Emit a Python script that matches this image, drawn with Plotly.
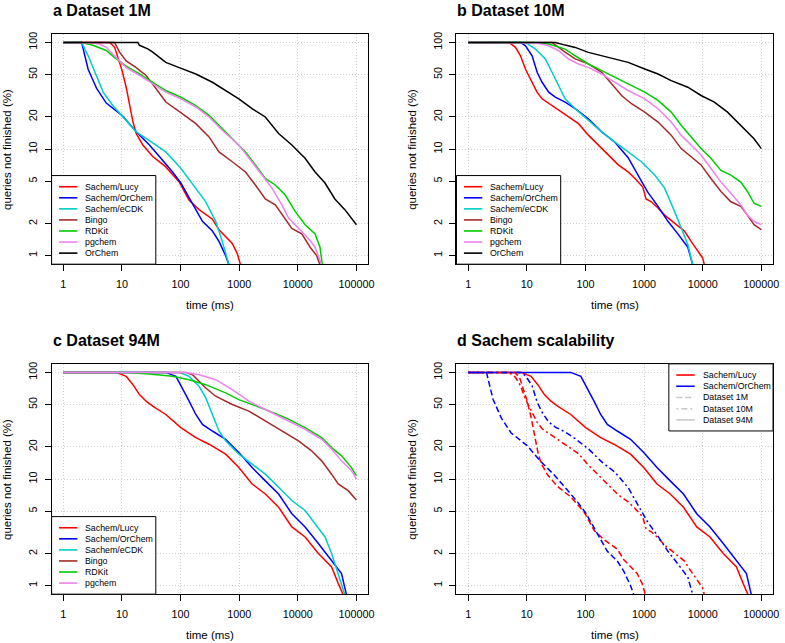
import plotly.graph_objects as go

W, H = 785, 643

# ---- a Dataset 1M : time (ms) / queries not finished (%)
a_lucy_t = [1, 6.2, 7.5, 9.1, 10, 11.8, 13.5, 15.4, 17.5, 22.7, 33.5, 56, 95, 140, 207, 349, 452, 761, 925, 1054]
a_lucy_p = [100, 100, 90, 66, 55, 38, 26, 18, 14, 10.9, 8.5, 6.8, 4.9, 3.3, 2.7, 2.2, 1.75, 1.3, 1.05, 0.82]
a_orchem_t = [1, 2.05, 2.65, 3.7, 5.4, 10, 17.5, 29.4, 43.5, 73, 101, 160, 236, 349, 452, 587, 668]
a_orchem_p = [100, 100, 56, 37, 27, 20.7, 14.5, 10.9, 8.5, 6.1, 4.8, 3.1, 2.1, 1.7, 1.36, 1.0, 0.82]
a_ecdk_t = [1, 2.05, 2.65, 3.7, 4.8, 7.0, 10, 17.5, 29.4, 56, 101, 182, 269, 397, 515, 668]
a_ecdk_p = [100, 100, 75, 49, 34, 25.6, 20.7, 14.5, 12, 9.4, 6.6, 4.3, 3.2, 2.1, 1.36, 0.82]
a_bingo_t = [1, 7.5, 9.1, 11.8, 17.5, 25.8, 38, 56, 101, 182, 306, 452, 761, 1280, 1890, 2790, 4130,
             6100, 7910, 11700, 16200, 21000, 23900]
a_bingo_p = [100, 100, 81, 67, 58, 49, 37, 27.6, 22, 17.3, 13, 9.4, 7.6, 6.1, 4.6, 3.4, 3.0,
             2.2, 1.8, 1.6, 1.2, 1.0, 0.82]
a_rdkit_t = [1, 2.05, 3.2, 5.4, 7.5, 11.8, 19.9, 33.5, 56, 101, 182, 306, 515, 761, 1280, 1890,
             2790, 4130, 6100, 9010, 13300, 19700, 23900, 26200]
a_rdkit_p = [100, 100, 94, 84, 72, 60, 50.6, 42, 35.4, 30.6, 25.6, 20.7, 15.6, 12.5, 9.4, 7.1,
             5.3, 4.6, 3.7, 2.6, 1.95, 1.6, 1.2, 0.82]
a_pgchem_t = [1, 3.2, 4.2, 5.4, 8.0, 11.8, 19.9, 33.5, 56, 101, 182, 306, 515, 986, 1660, 2450,
              3620, 5350, 6950, 10260, 15150, 19700, 25500]
a_pgchem_p = [100, 99, 96, 90, 72, 58, 49, 41, 34.2, 29.6, 24.8, 20, 15, 10.9, 7.6, 5.7,
              4.3, 3.0, 2.25, 1.8, 1.45, 1.2, 0.82]
a_orchemdb_t = [1, 18.7, 19.9, 27.6, 33.5, 43.5, 56, 95, 182, 349, 587, 986, 1660, 2790, 4700,
                7910, 13300, 19700, 29100, 42900, 63400, 82200, 100000]
a_orchemdb_p = [100, 100, 94, 87, 81, 72, 65, 58, 50.6, 42.3, 35.4, 29.6, 23.9, 20, 14,
                10.9, 8.2, 6.1, 4.8, 3.4, 2.7, 2.25, 1.95]

# ---- b Dataset 10M
b_lucy_t = [1, 4.95, 6.4, 7.8, 9.5, 12.3, 15, 18.2, 26.9, 45, 76, 112, 166, 245, 363, 535, 700,
            950, 1080, 1330, 1730, 2240, 3310, 4890, 6340, 8230, 10000, 10670]
b_lucy_p = [100, 100, 90, 75, 56, 42, 34, 29.6, 25.6, 21.4, 17.3, 13.5, 10.9, 8.8, 7.1, 6.1, 5.3,
            4.4, 3.4, 3.2, 2.8, 2.4, 2.0, 1.7, 1.36, 1.1, 0.95, 0.82]
b_orchem_t = [1, 7.8, 9.5, 12.3, 15, 18.2, 23.6, 30.6, 45, 66.8, 112, 189, 318, 535, 901, 1170,
              1730, 2550, 3770, 5570, 6760]
b_orchem_p = [100, 100, 93, 75, 52.5, 42.3, 34.2, 30.7, 27.6, 23.9, 19.2, 14.5, 11.6, 8.3, 5.0, 3.9,
              2.9, 2.1, 1.6, 1.2, 0.82]
b_ecdk_t = [1, 9.5, 14, 20.7, 26.9, 34.9, 45, 66.8, 112, 189, 318, 535, 901, 1520, 2240, 3310,
            4290, 5570, 6760]
b_ecdk_p = [100, 100, 86.6, 69.9, 52.5, 39.4, 29.6, 23.9, 18.6, 14.5, 11.6, 9.4, 7.6, 5.7, 4.3, 2.6,
            1.8, 1.27, 0.82]
b_bingo_t = [1, 26.9, 45, 66.8, 112, 189, 279, 413, 610, 1026, 1730, 2900, 4290, 6340, 9370,
             13800, 20500, 30200, 44600, 57900, 75100, 100000]
b_bingo_p = [100, 100, 81, 70, 63, 52.5, 41, 31.8, 26.6, 22.2, 17.9, 13.5, 10.1, 8.5, 7.1,
             5.3, 4.0, 3.2, 2.9, 2.4, 1.95, 1.75]
b_rdkit_t = [1, 14, 23.6, 45, 66.8, 112, 189, 318, 535, 1026, 1730, 2900, 4290, 6340, 9370,
             13800, 20500, 30200, 44600, 57900, 75100, 100000]
b_rdkit_p = [100, 100, 96.5, 86.6, 75, 62.8, 54.4, 47.2, 40.9, 34.2, 28.6, 22.2, 16.7, 13, 10.1,
             8.2, 6.3, 5.7, 4.9, 4.0, 3.1, 2.9]
b_pgchem_t = [1, 14, 23.6, 34.9, 51.5, 76, 112, 189, 318, 535, 1026, 1730, 2900, 4290, 6340,
              9370, 13800, 20500, 30200, 44600, 57900, 75100, 100000]
b_pgchem_p = [100, 99, 93, 83.6, 69.9, 62.8, 58.4, 50.6, 42.3, 35.4, 29.6, 23.9, 17.9, 13.5, 10.9,
              8.8, 6.6, 4.9, 3.85, 3.0, 2.4, 2.1, 1.95]
b_orchemdb_t = [1, 30.6, 45, 66.8, 112, 189, 318, 535, 1026, 1730, 2900, 5570, 9370, 15800,
                26500, 39200, 57900, 75100, 100000]
b_orchemdb_p = [100, 100, 94.4, 89.8, 80.7, 75, 69.9, 65, 56.4, 50.6, 43.8, 38, 31.8, 27.6,
                22.2, 17.9, 14.5, 12.5, 10.1]

# ---- c Dataset 94M
c_lucy_t = [1, 8.0, 11.8, 15.4, 19.9, 25.8, 33.5, 56, 101, 182, 306, 587, 986, 1660, 2790, 4700,
            7910, 13300, 22400, 37700, 48900, 59400]
c_lucy_p = [100, 100, 91.8, 76.7, 61.9, 53.7, 48.2, 40.3, 30.3, 24.4, 21.2, 17.1, 12.8, 8.98, 7.24,
            5.44, 3.55, 2.86, 2.0, 1.5, 1.05, 0.82]
c_orchem_t = [1, 56, 83.4, 108, 140, 182, 236, 349, 587, 986, 1660, 2790, 4700, 7910, 13300,
              22400, 37700, 55700, 67600]
c_orchem_p = [100, 100, 91.8, 71.4, 53.7, 40.3, 32.5, 28.2, 23.6, 17.7, 12.8, 9.6, 7.24, 4.72, 3.55,
              2.48, 1.73, 1.3, 0.82]
c_ecdk_t = [1, 95, 140, 207, 269, 349, 452, 587, 986, 1660, 2790, 4700, 7910, 13300, 19700, 29100,
            37700, 48900, 63400]
c_ecdk_p = [100, 100, 91.8, 74.1, 57.7, 40.3, 28.2, 22.8, 17.1, 13.8, 11.1, 8.36, 6.28, 5.07, 3.81,
            2.86, 2.0, 1.3, 0.82]
c_bingo_t = [1, 122, 160, 207, 269, 397, 761, 1460, 2790, 5350, 10260, 17200, 25500, 37700, 48900,
             72200, 100000]
c_bingo_p = [100, 100, 95, 82.4, 71.4, 59.8, 50, 43.4, 34.9, 28.2, 22.8, 18.4, 14.8, 11.1, 8.98,
             7.78, 6.36]
c_rdkit_t = [1, 11.8, 29.4, 73, 140, 269, 587, 986, 2790, 6100, 13300, 25500, 37700, 55700, 82200,
             100000]
c_rdkit_p = [100, 100, 96.5, 91.8, 85.4, 76.7, 64.2, 55.6, 44.9, 37.6, 30.3, 24.4, 19.7, 16.5, 12.8,
             10.7]
c_pgchem_t = [1, 122, 207, 397, 761, 1460, 2790, 6100, 13300, 25500, 37700, 55700, 82200, 100000]
c_pgchem_p = [100, 100, 95, 85.4, 69, 53.7, 44.9, 36.2, 29.3, 23.6, 19.1, 14.8, 12, 10]

x_ticks = [1, 10, 100, 1000, 10000, 100000]
x_labels = ["1", "10", "100", "1000", "10000", "100000"]
y_ticks = [1, 2, 5, 10, 20, 50, 100]
y_labels = ["1", "2", "5", "10", "20", "50", "100"]

titles = ["a Dataset 1M", "b Dataset 10M", "c Dataset 94M", "d Sachem scalability"]

colors = {
    "Sachem/Lucy": "#FF0000",
    "Sachem/OrChem": "#0000FF",
    "Sachem/eCDK": "#00CDCD",
    "Bingo": "#A52A2A",
    "RDKit": "#00CD00",
    "pgchem": "#EE82EE",
    "OrChem": "#000000",
}
DASH_1M = "6px,3px"
DASH_10M = "2px,3px,6px,3px"
FONT = "Liberation Sans, Arial, sans-serif"

panel_a = [("Sachem/Lucy", a_lucy_t, a_lucy_p), ("Sachem/OrChem", a_orchem_t, a_orchem_p),
           ("Sachem/eCDK", a_ecdk_t, a_ecdk_p), ("Bingo", a_bingo_t, a_bingo_p),
           ("RDKit", a_rdkit_t, a_rdkit_p), ("pgchem", a_pgchem_t, a_pgchem_p),
           ("OrChem", a_orchemdb_t, a_orchemdb_p)]
panel_b = [("Sachem/Lucy", b_lucy_t, b_lucy_p), ("Sachem/OrChem", b_orchem_t, b_orchem_p),
           ("Sachem/eCDK", b_ecdk_t, b_ecdk_p), ("Bingo", b_bingo_t, b_bingo_p),
           ("RDKit", b_rdkit_t, b_rdkit_p), ("pgchem", b_pgchem_t, b_pgchem_p),
           ("OrChem", b_orchemdb_t, b_orchemdb_p)]
panel_c = [("Sachem/Lucy", c_lucy_t, c_lucy_p), ("Sachem/OrChem", c_orchem_t, c_orchem_p),
           ("Sachem/eCDK", c_ecdk_t, c_ecdk_p), ("Bingo", c_bingo_t, c_bingo_p),
           ("RDKit", c_rdkit_t, c_rdkit_p), ("pgchem", c_pgchem_t, c_pgchem_p)]

# plot boxes in pixels (left, right, top, bottom)
boxes = [(52, 371, 32, 263), (460, 779, 32, 263), (52, 371, 363, 594), (460, 779, 363, 594)]


def fx(v):
    return v / W


def fy(v):
    return 1 - v / H


fig = go.Figure()

for i, series in enumerate([panel_a, panel_b, panel_c]):
    sfx = "" if i == 0 else str(i + 1)
    for name, t, p in series:
        fig.add_trace(go.Scatter(x=t, y=p, mode="lines", name=name,
                                 line=dict(color=colors[name], width=1.5),
                                 xaxis="x" + sfx, yaxis="y" + sfx, showlegend=False))

# d: Sachem scalability (94M solid, 1M dashed, 10M dot-dash)
for t, p, col, dash in [
    (c_lucy_t, c_lucy_p, colors["Sachem/Lucy"], "solid"),
    (c_orchem_t, c_orchem_p, colors["Sachem/OrChem"], "solid"),
    (a_lucy_t, a_lucy_p, colors["Sachem/Lucy"], DASH_1M),
    (a_orchem_t, a_orchem_p, colors["Sachem/OrChem"], DASH_1M),
    (b_lucy_t, b_lucy_p, colors["Sachem/Lucy"], DASH_10M),
    (b_orchem_t, b_orchem_p, colors["Sachem/OrChem"], DASH_10M),
]:
    fig.add_trace(go.Scatter(x=t, y=p, mode="lines", line=dict(color=col, width=1.5, dash=dash),
                             xaxis="x4", yaxis="y4", showlegend=False))

layout = dict(
    width=W, height=H, margin=dict(l=0, r=0, t=0, b=0),
    paper_bgcolor="white", plot_bgcolor="white",
    font=dict(family=FONT, color="black"),
    showlegend=False,
)
shapes = []
annotations = []

for i, (x0, x1, y0, y1) in enumerate(boxes):
    sfx = "" if i == 0 else str(i + 1)
    axis_common = dict(
        type="log", ticks="outside", ticklen=6, tickwidth=1, tickcolor="black",
        showline=True, mirror=True, linecolor="black", linewidth=1,
        showgrid=True, gridcolor="#CFCFCF", griddash="1px,2px", gridwidth=1,
        zeroline=False, tickfont=dict(size=10.8, family=FONT, color="black"),
    )
    layout["xaxis" + sfx] = dict(axis_common, domain=[fx(x0), fx(x1)], range=[-0.2, 5.2],
                                 anchor="y" + sfx, tickvals=x_ticks, ticktext=x_labels,
                                 ticklabelstandoff=4)
    layout["yaxis" + sfx] = dict(axis_common, domain=[fy(y1), fy(y0)], range=[-0.08, 2.08],
                                 anchor="x" + sfx, tickvals=y_ticks, ticktext=y_labels,
                                 tickangle=-90, ticklabelstandoff=3)
    # panel title
    annotations.append(dict(text="<b>" + titles[i] + "</b>", xref="paper", yref="paper",
                            x=fx(x0 - 1), y=fy(y0 - 23.5), xanchor="left", yanchor="middle",
                            showarrow=False, font=dict(size=16, family=FONT, color="black")))
    # axis titles
    annotations.append(dict(text="time (ms)", xref="paper", yref="paper",
                            x=fx((x0 + x1) / 2), y=fy(y1 + 41), xanchor="center", yanchor="middle",
                            showarrow=False, font=dict(size=11.5, family=FONT, color="black")))
    annotations.append(dict(text="queries not finished (%)", xref="paper", yref="paper",
                            x=fx(x0 - 45), y=fy((y0 + y1) / 2), xanchor="center", yanchor="middle",
                            textangle=-90, showarrow=False,
                            font=dict(size=11.5, family=FONT, color="black")))


def add_legend(left, top, items, width=105, step=11.1):
    height = (len(items) - 1) * step + 22.3
    shapes.append(dict(type="rect", xref="paper", yref="paper", layer="above",
                       x0=fx(left), x1=fx(left + width), y0=fy(top + height), y1=fy(top),
                       line=dict(color="black", width=1), fillcolor="white"))
    for k, (label, col, dash) in enumerate(items):
        yy = top + 11.2 + k * step
        shapes.append(dict(type="line", xref="paper", yref="paper", layer="above",
                           x0=fx(left + 7.5), x1=fx(left + 26), y0=fy(yy), y1=fy(yy),
                           line=dict(color=col, width=1.6, dash=dash)))
        annotations.append(dict(text=label, xref="paper", yref="paper", x=fx(left + 32),
                                y=fy(yy), xanchor="left", yanchor="middle", showarrow=False,
                                font=dict(size=8.8, family=FONT, color="black")))


names_all = list(colors.keys())
add_legend(52, 263 - (6 * 11.1 + 22.3), [(n, colors[n], "solid") for n in names_all])
add_legend(460, 263 - (6 * 11.1 + 22.3), [(n, colors[n], "solid") for n in names_all])
add_legend(52, 594 - (5 * 11.1 + 22.3), [(n, colors[n], "solid") for n in names_all[:6]])
add_legend(674, 363, [("Sachem/Lucy", colors["Sachem/Lucy"], "solid"),
                      ("Sachem/OrChem", colors["Sachem/OrChem"], "solid"),
                      ("Dataset 1M", "#C8C8C8", DASH_1M),
                      ("Dataset 10M", "#C8C8C8", DASH_10M),
                      ("Dataset 94M", "#C8C8C8", "solid")], step=11.25)

layout["shapes"] = shapes
layout["annotations"] = annotations
fig.update_layout(**layout)

# the page body has an 8px default margin; remove it so the figure fills the window
fig.write_html("out.html", config={"displayModeBar": False},
               post_script="document.body.style.margin='0px';")
